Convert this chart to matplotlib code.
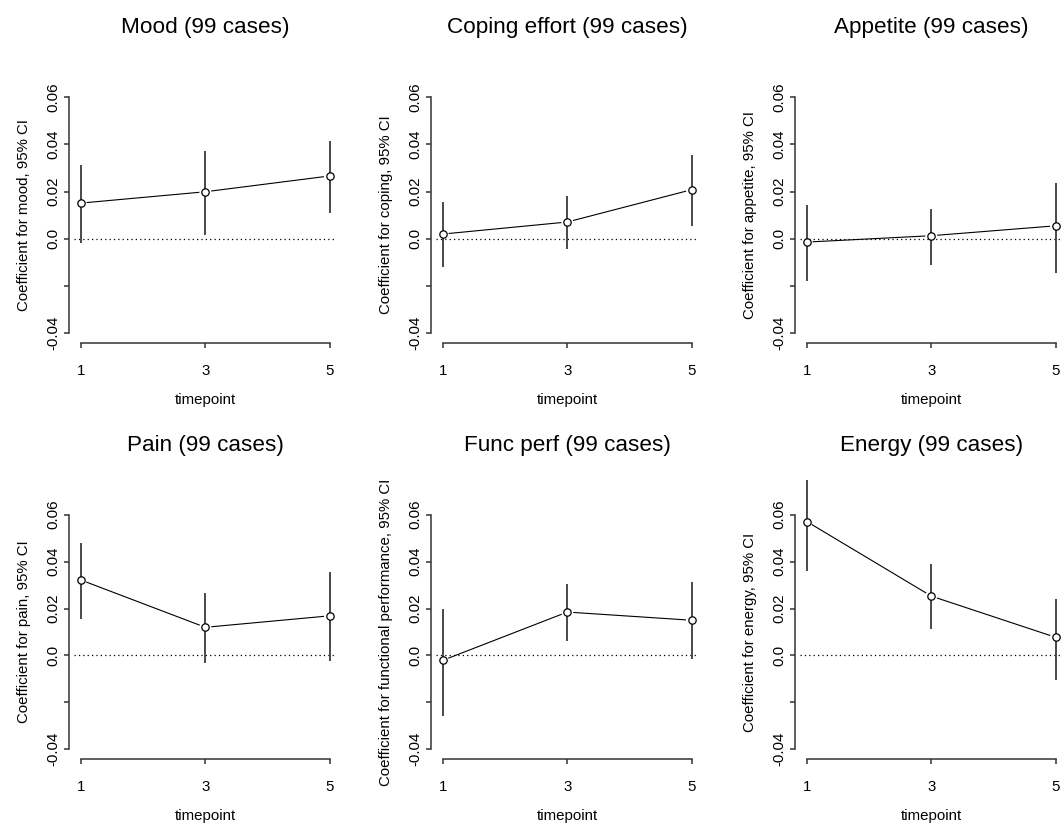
import numpy as np
import matplotlib
matplotlib.use('Agg')
import matplotlib.pyplot as plt

plt.rcParams['font.family'] = ['Liberation Sans', 'DejaVu Sans']

W, H = 1062, 824

timepoints = [1, 3, 5]

titles = ['Mood (99 cases)', 'Coping effort (99 cases)', 'Appetite (99 cases)',
          'Pain (99 cases)', 'Func perf (99 cases)', 'Energy (99 cases)']
ylabels = ['Coefficient for mood, 95% CI',
           'Coefficient for coping, 95% CI',
           'Coefficient for appetite, 95% CI',
           'Coefficient for pain, 95% CI',
           'Coefficient for functional performance, 95% CI',
           'Coefficient for energy, 95% CI']

mood_coef = [0.0151, 0.0199, 0.0266]
mood_lo = [-0.0018, 0.0014, 0.0108]
mood_hi = [0.0313, 0.0373, 0.0415]

coping_coef = [0.0020, 0.0071, 0.0208]
coping_lo = [-0.0120, -0.0044, 0.0052]
coping_hi = [0.0154, 0.0179, 0.0356]

appetite_coef = [-0.0014, 0.0013, 0.0055]
appetite_lo = [-0.0177, -0.0110, -0.0145]
appetite_hi = [0.0143, 0.0126, 0.0237]

pain_coef = [0.0322, 0.0120, 0.0169]
pain_lo = [0.0155, -0.0034, -0.0024]
pain_hi = [0.0481, 0.0268, 0.0355]

func_coef = [-0.0021, 0.0185, 0.0150]
func_lo = [-0.0258, 0.0060, -0.0016]
func_hi = [0.0198, 0.0304, 0.0311]

energy_coef = [0.0571, 0.0253, 0.0077]
energy_lo = [0.0359, 0.0112, -0.0103]
energy_hi = [0.0749, 0.0388, 0.0241]

coefs = [mood_coef, coping_coef, appetite_coef, pain_coef, func_coef, energy_coef]
lows = [mood_lo, coping_lo, appetite_lo, pain_lo, func_lo, energy_lo]
highs = [mood_hi, coping_hi, appetite_hi, pain_hi, func_hi, energy_hi]

yticks = [-0.04, -0.02, 0.0, 0.02, 0.04, 0.06]
ytick_labels = ['-0.04', '', '0.0', '0.02', '0.04', '0.06']

# pixel positions of x=1 per column, and of y=0.06 / y=-0.04 per row
col_x1 = [80.7, 442.7, 806.7]
ppu_x = 62.3
row_top = [97.0, 514.7]
row_bot = [333.3, 749.3]
xlim = (0.82, 5.18)
ylim = (-0.0442, 0.0642)

axcol = '#333333'

def gapped_line(ax, x, y, gap=6.5):
    # R type="b": segments stop short of the points
    pts = ax.transData.transform(np.column_stack([x, y]))
    inv = ax.transData.inverted()
    for a, b in zip(pts[:-1], pts[1:]):
        d = b - a
        L = np.hypot(d[0], d[1])
        if L <= 2 * gap:
            continue
        u = d / L
        seg = inv.transform(np.array([a + u * gap, b - u * gap]))
        ax.plot(seg[:, 0], seg[:, 1], color='black', lw=0.8)

fig = plt.figure(figsize=(W / 100, H / 100), dpi=100)

for i in range(6):
    r, c = i // 3, i % 3
    left = col_x1[c] - (1 - xlim[0]) * ppu_x
    width = (xlim[1] - xlim[0]) * ppu_x
    ppu_y = (row_bot[r] - row_top[r]) / 0.1
    top = row_top[r] - (ylim[1] - 0.06) * ppu_y
    bottom = row_bot[r] + (-0.04 - ylim[0]) * ppu_y
    ax = fig.add_axes([left / W, 1 - bottom / H, width / W, (bottom - top) / H])
    ax.set_xlim(*xlim)
    ax.set_ylim(*ylim)

    for s in ['top', 'right']:
        ax.spines[s].set_visible(False)
    for s in ['left', 'bottom']:
        ax.spines[s].set_color(axcol)
        ax.spines[s].set_linewidth(1.1)
    ax.spines['left'].set_bounds(-0.04, 0.06)
    ax.spines['bottom'].set_bounds(1, 5)

    ax.set_xticks(timepoints)
    ax.set_xticklabels([str(t) for t in timepoints])
    ax.set_yticks(yticks)
    ax.set_yticklabels(ytick_labels)
    ax.tick_params(axis='both', length=3.6, width=1.1, color=axcol, labelsize=10.8)
    ax.tick_params(axis='x', pad=11.2)
    ax.tick_params(axis='y', pad=3.2)
    for lbl in ax.get_yticklabels():
        lbl.set_rotation(90)
        lbl.set_va('center')

    ax.plot([0.9, 5.07], [0, 0], color='black', lw=0.9, ls=(0, (1, 2.5)))

    ax.vlines(timepoints, lows[i], highs[i], color='#3a3a3a', lw=1.3, clip_on=False)
    gapped_line(ax, timepoints, coefs[i])
    ax.plot(timepoints, coefs[i], ls='none', marker='o', ms=5.3, mfc='white',
            mec='black', mew=0.9, clip_on=False)

    ax.set_title(titles[i], fontsize=16.2, pad=39)
    ax.set_ylabel(ylabels[i], fontsize=10.8, va='center')
    ax.yaxis.set_label_coords(-45 / width, 0.5)
    ax.set_xlabel('timepoint', fontsize=10.8, va='center')
    ax.xaxis.set_label_coords(0.5, -57 / (bottom - top))

fig.savefig('out.png', dpi=100)
